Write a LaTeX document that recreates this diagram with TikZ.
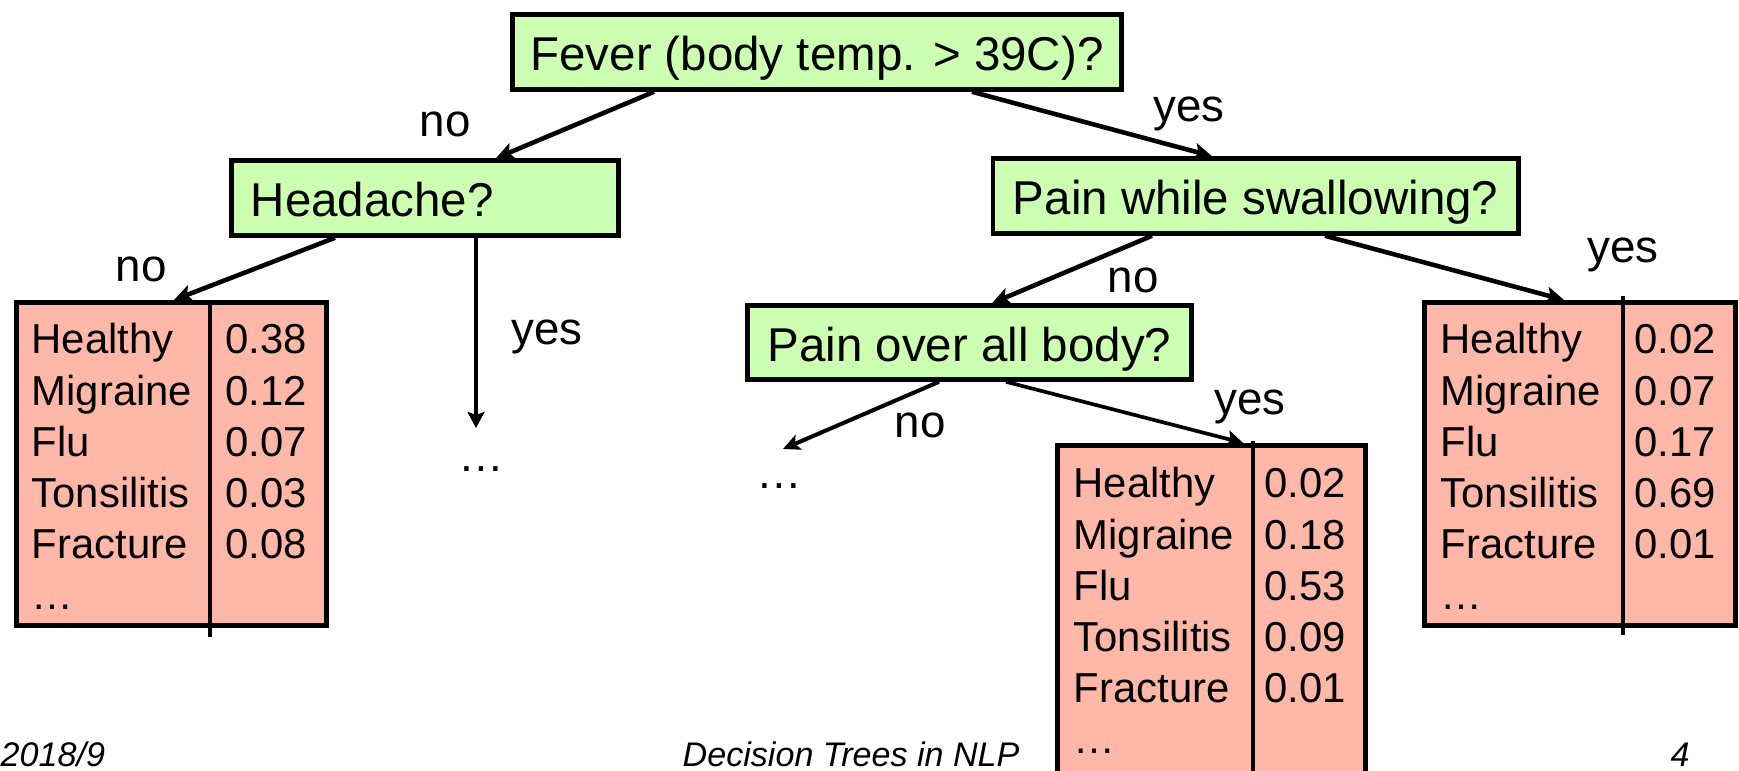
\documentclass[tikz,border=0pt]{standalone}
\usepackage{fontspec}
\setmainfont{Liberation Sans}
\usetikzlibrary{arrows.meta,calc}
\definecolor{qgreen}{RGB}{204,255,178}
\definecolor{lpink}{RGB}{255,183,167}
% one column of a leaf table: rows separated by \cr, first baseline is the reference point
\newcommand\leafcol[1]{\vtop{\baselineskip=0.51cm\lineskiplimit=-1cm\halign{##\hfil\cr#1\crcr}}}
\tikzset{
  qbox/.style={draw, fill=qgreen, line width=1.3pt, inner xsep=0pt, inner ysep=0pt,
    font=\fontsize{13.5}{16}\selectfont, text height=0.45cm, text depth=0.07cm},
  leafbox/.style={draw, fill=lpink, line width=1.4pt, inner sep=0pt},
  leaftext/.style={inner sep=0pt, anchor=base west, font=\fontsize{11.9}{14.5}\selectfont},
  divider/.style={line width=1.4pt},
  lbl/.style={inner sep=0pt, anchor=base west, font=\fontsize{13}{15.6}\selectfont},
  foot/.style={inner sep=0pt, anchor=base west, font=\fontsize{9.7}{11}\selectfont\itshape},
  thick arrow/.style={line width=1.3pt, -{Stealth[length=0.18cm, width=0.17cm, inset=0.04cm]}},
  mid arrow/.style={line width=1.15pt, -{Stealth[length=0.17cm, width=0.16cm, inset=0.04cm]}},
  thin arrow/.style={line width=1.05pt, -{Stealth[length=0.16cm, width=0.17cm, inset=0.03cm]}},
}
\begin{document}
\begin{tikzpicture}[x=0.01cm, y=-0.01cm]
\useasboundingbox (0,0) rectangle (1739,771);
\clip (0,0) rectangle (1739,771);

% question nodes
\node[qbox, minimum width=6.09cm, minimum height=0.75cm] (fever) at (817,52) {Fever (body temp. > 39C)?};
\node[qbox, minimum width=3.87cm, minimum height=0.75cm, text width=3.48cm, align=left] (hd) at (425,198) {Headache?};
\node[qbox, minimum width=5.255cm, minimum height=0.75cm] (sw) at (1255.75,196) {Pain while swallowing?};
\node[qbox, minimum width=4.44cm, minimum height=0.74cm] (ov) at (969.5,342.5) {Pain over all body?};

% leaf tables
\node[leafbox, minimum width=3.10cm, minimum height=3.23cm] (leafA) at (171.5,464) {};
\node[leafbox, minimum width=3.08cm, minimum height=3.595cm] (leafB) at (1211.5,625.25) {};
\node[leafbox, minimum width=3.11cm, minimum height=3.23cm] (leafC) at (1580,464) {};

\draw[divider] (210,0 |- leafA.north) -- (210,637);
\draw[divider] (1253,441) -- (1253,805);
\draw[divider] (1623,296) -- (1623,635);

\node[leaftext] (leafA-names) at (31,354) {\leafcol{Healthy\cr Migraine\cr Flu\cr Tonsilitis\cr Fracture\cr …}};
\node[leaftext] (leafA-probs) at (225,354) {\leafcol{0.38\cr 0.12\cr 0.07\cr 0.03\cr 0.08}};
\node[leaftext] (leafB-names) at (1073,498) {\leafcol{Healthy\cr Migraine\cr Flu\cr Tonsilitis\cr Fracture\cr …}};
\node[leaftext] (leafB-probs) at (1264,498) {\leafcol{0.02\cr 0.18\cr 0.53\cr 0.09\cr 0.01}};
\node[leaftext] (leafC-names) at (1440,354) {\leafcol{Healthy\cr Migraine\cr Flu\cr Tonsilitis\cr Fracture\cr …}};
\node[leaftext] (leafC-probs) at (1634,354) {\leafcol{0.02\cr 0.07\cr 0.17\cr 0.69\cr 0.01}};

% unexpanded branches
\node[lbl] (dotsA) at (458,472) {…};
\node[lbl] (dotsB) at (756,489) {…};
\coordinate (tipA) at (476,428);
\coordinate (tipB) at (783,449);

% branches
\draw[thick arrow] (654,0 |- fever.south) -- (496,0 |- hd.north);
\draw[thick arrow] (972,0 |- fever.south) -- (1212,0 |- sw.north);
\draw[thick arrow] (335,0 |- hd.south) -- (174,0 |- leafA.north);
\draw[thin arrow] (476,0 |- hd.south) -- (tipA);
\draw[thick arrow] (1152,0 |- sw.south) -- (992,0 |- ov.north);
\draw[thick arrow] (1325,0 |- sw.south) -- (1564,0 |- leafC.north);
\draw[mid arrow] (939,0 |- ov.south) -- (tipB);
\draw[thin arrow] (1006,0 |- ov.south) -- (1243,0 |- leafB.north);

% branch labels
\node[lbl] (l1) at (419,137) {no};
\node[lbl] (l2) at (1153,122) {yes};
\node[lbl] (l3) at (115,282) {no};
\node[lbl] (l4) at (511,345) {yes};
\node[lbl] (l5) at (1107,293) {no};
\node[lbl] (l6) at (1587,263) {yes};
\node[lbl] (l7) at (894,438) {no};
\node[lbl] (l8) at (1214,415) {yes};

% footer
\node[foot] (date) at (0,767) {2018/9};
\node[foot] (title) at (682,767) {Decision Trees in NLP};
\node[foot] (page) at (1670,767) {4};
\end{tikzpicture}
\end{document}
